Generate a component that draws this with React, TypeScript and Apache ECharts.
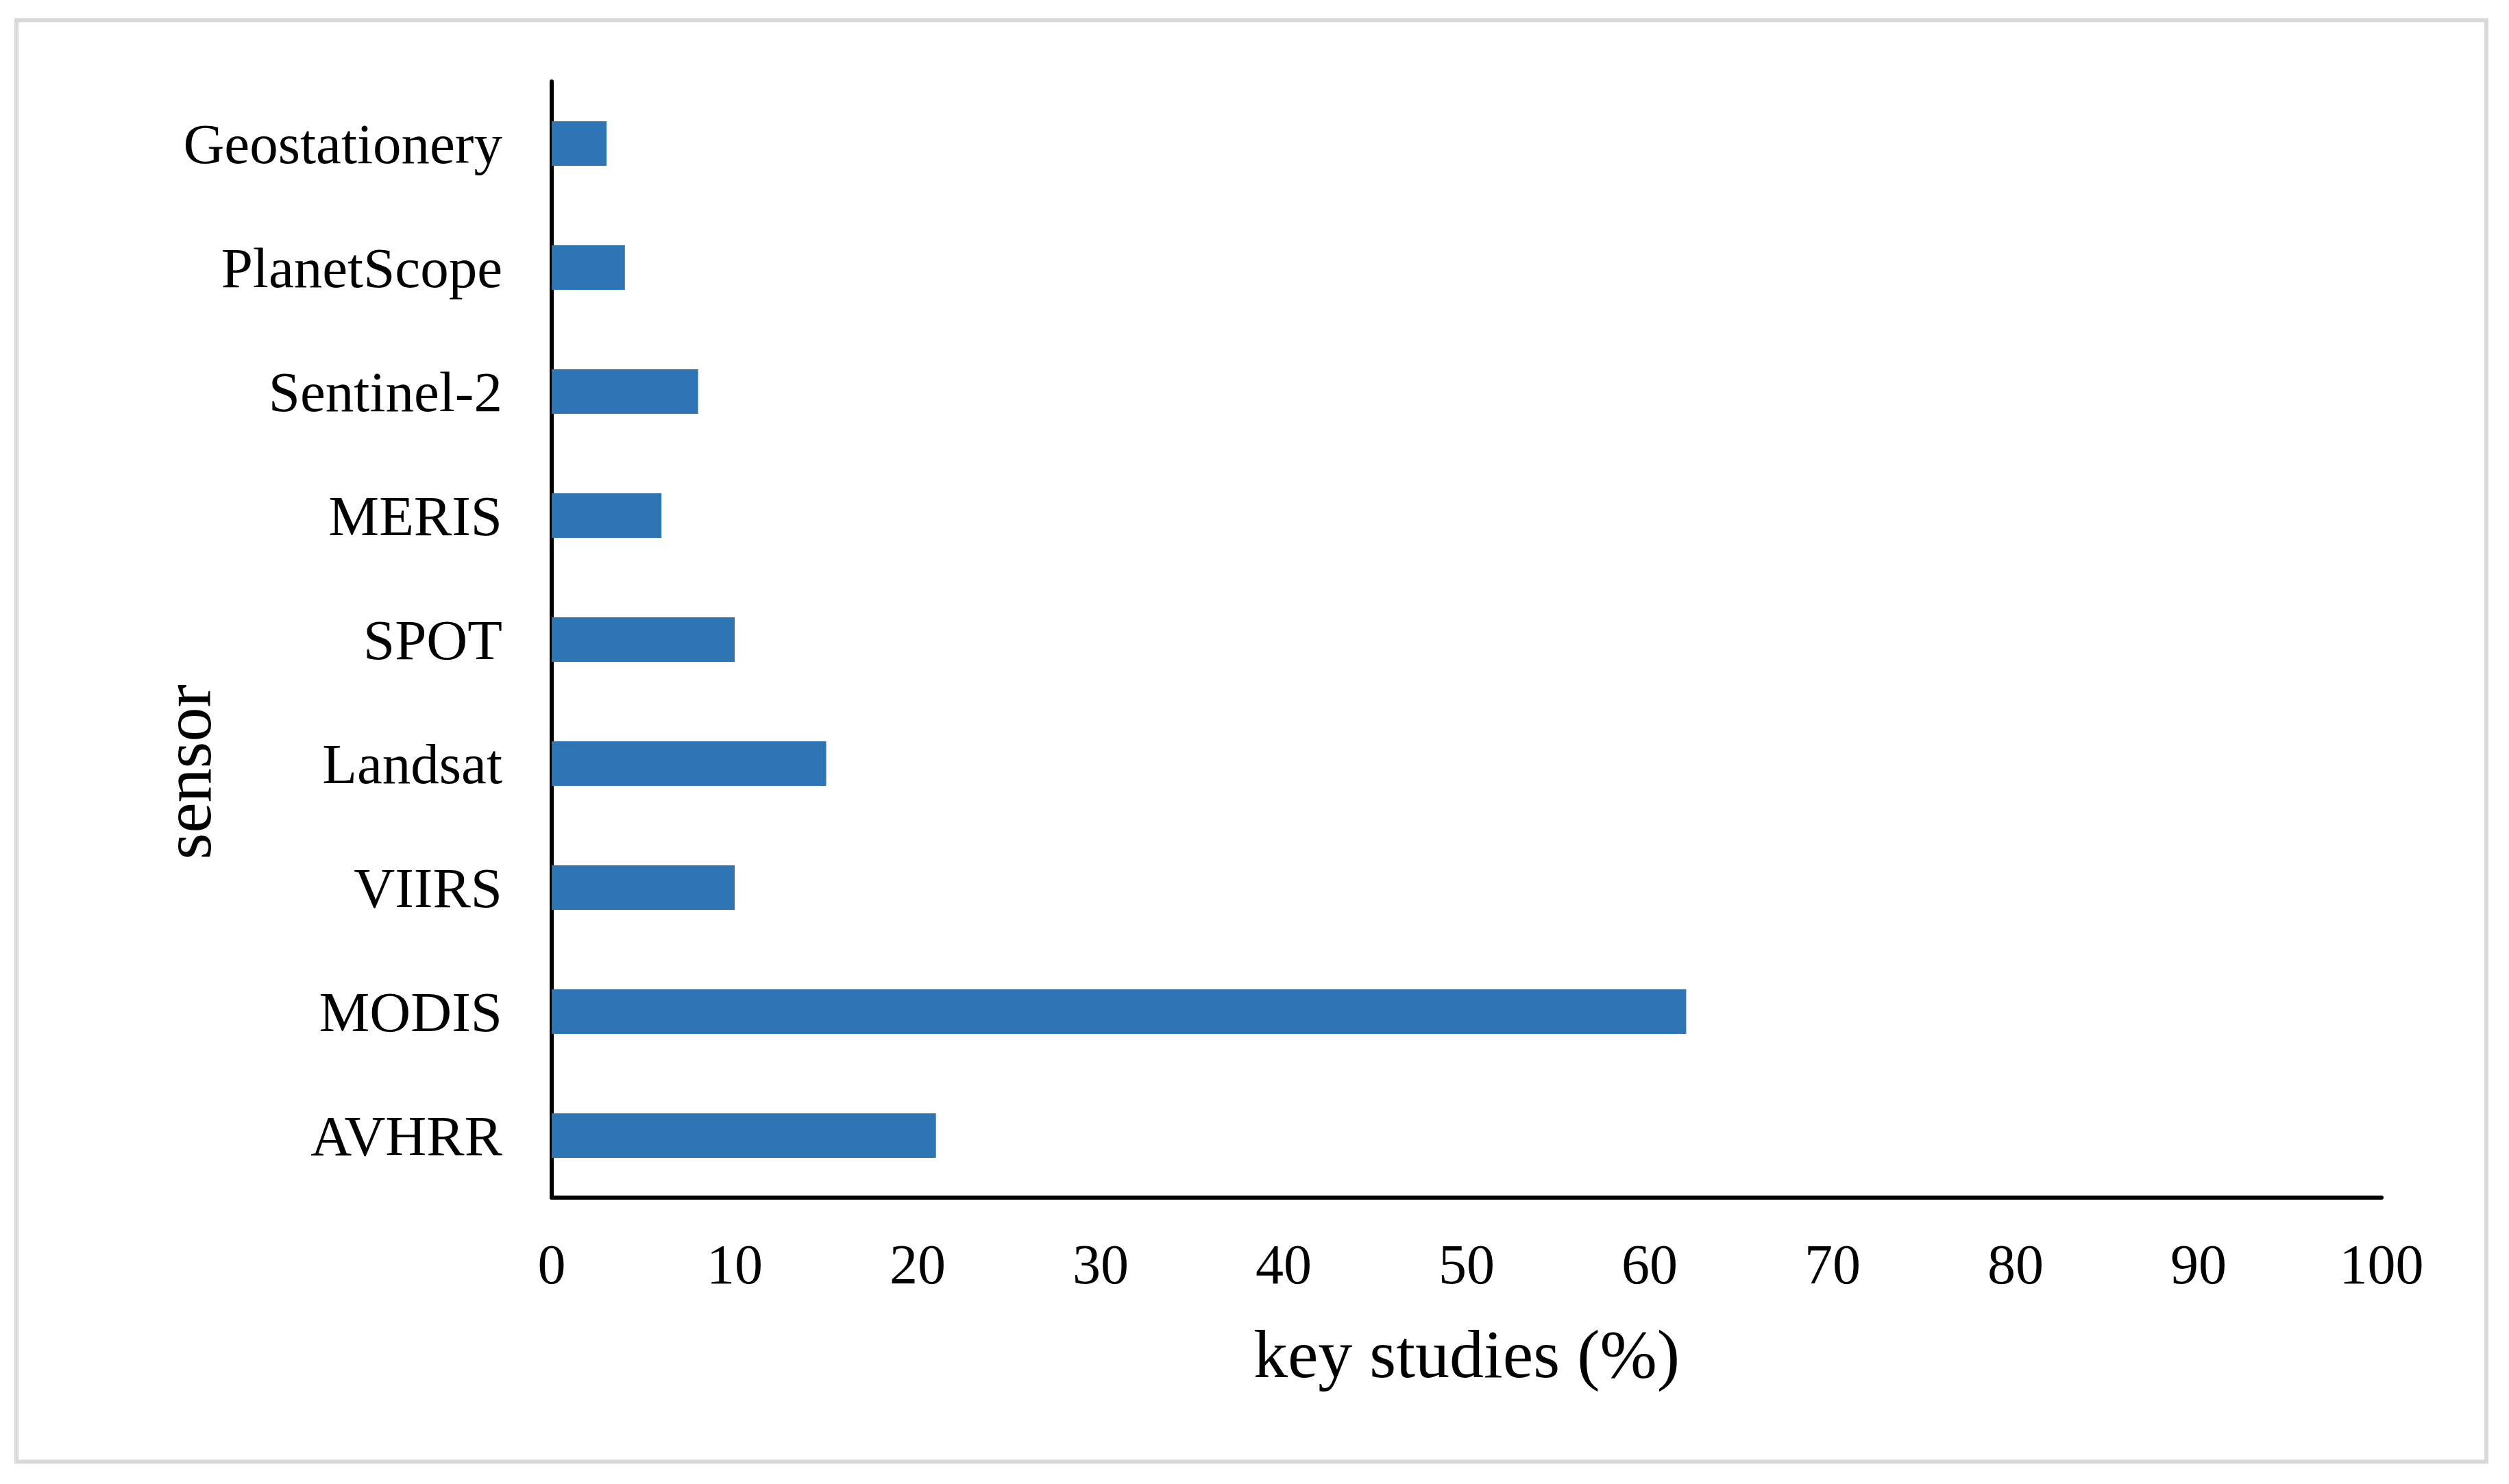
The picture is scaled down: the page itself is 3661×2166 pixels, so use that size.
import React, { useEffect, useRef } from "react";
import * as echarts from "echarts";

const categories = ["AVHRR", "MODIS", "VIIRS", "Landsat", "SPOT", "MERIS", "Sentinel-2", "PlanetScope", "Geostationery"];
const values = [21, 62, 10, 15, 10, 6, 8, 4, 3];
const xTicks = { min: 0, max: 100, interval: 10 };
const xTitle = "key studies (%)";
const yTitle = "sensor";

const FONT = '"Liberation Serif", "Times New Roman", serif';

export default function App() {
  const ref = useRef<HTMLDivElement>(null);
  useEffect(() => {
    if (!ref.current) return;
    const chart = echarts.init(ref.current, null, { renderer: "svg" });
    chart.setOption({
      animation: false,
      backgroundColor: "#ffffff",
      grid: { left: 805, right: 186, top: 119, bottom: 418, containLabel: false },
      xAxis: {
        type: "value",
        min: xTicks.min,
        max: xTicks.max,
        interval: xTicks.interval,
        axisLine: { show: true, lineStyle: { color: "#000000", width: 6 } },
        axisTick: { show: false },
        splitLine: { show: false },
        axisLabel: { color: "#000000", fontFamily: FONT, fontSize: 82, margin: 56 },
        name: xTitle,
        nameLocation: "middle",
        nameGap: 178,
        nameTextStyle: { color: "#000000", fontFamily: FONT, fontSize: 100 },
      },
      yAxis: {
        type: "category",
        data: categories,
        axisLine: { show: true, lineStyle: { color: "#000000", width: 6 } },
        axisTick: { show: false },
        splitLine: { show: false },
        axisLabel: { color: "#000000", fontFamily: FONT, fontSize: 83, margin: 72 },
      },
      series: [
        {
          type: "bar",
          data: values,
          barWidth: 65,
          itemStyle: { color: "#2E75B6" },
        },
      ],
      graphic: [
        {
          type: "rect",
          shape: { x: 24, y: 29.5, width: 3604, height: 2104 },
          style: { fill: "none", stroke: "#d9d9d9", lineWidth: 6 },
          silent: true,
        },
        {
          type: "text",
          x: 273,
          y: 1127,
          rotation: Math.PI / 2,
          style: {
            text: yTitle,
            fontFamily: FONT,
            fontSize: 100,
            fill: "#000000",
            textAlign: "center",
            textVerticalAlign: "middle",
          },
        },
      ],
    });
    return () => chart.dispose();
  }, []);
  return (
    <div
      ref={ref}
      style={{ position: "fixed", left: 0, top: 0, width: 3661, height: 2166, background: "#ffffff" }}
    />
  );
}
